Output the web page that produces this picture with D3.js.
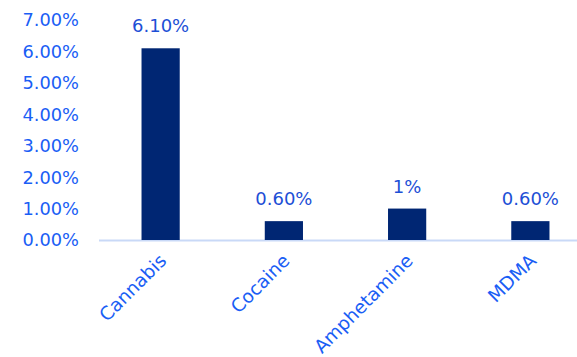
<!DOCTYPE html>
<html><head><meta charset="utf-8">
<script src="https://cdn.jsdelivr.net/npm/d3@7"></script>
<style>body{margin:0;background:#fff;} svg{display:block;}</style>
</head><body>
<svg id="c" width="577" height="357"></svg>
<script>
const categories = ["Cannabis", "Cocaine", "Amphetamine", "MDMA"];
const values = [6.10, 0.60, 1.0, 0.60];
const valueLabels = ["6.10%", "0.60%", "1%", "0.60%"];
const yTicks = [0, 1, 2, 3, 4, 5, 6, 7];

const svg = d3.select("#c");
const font = "'DejaVu Sans', sans-serif";
const x = d3.scaleBand().domain(categories).range([99, 592]).paddingInner(0.69).paddingOuter(0.345);
const y = d3.scaleLinear().domain([0, 7]).range([240, 20]);

// axis line
svg.append("line").attr("x1", 99).attr("x2", 577).attr("y1", y(0)+0.5).attr("y2", y(0)+0.5)
  .attr("stroke", "#c9d9f7").attr("stroke-width", 2);

// y tick labels
svg.append("g").selectAll("text").data(yTicks).join("text")
  .attr("x", 79).attr("y", d => y(d)).attr("dy", "0.36em")
  .attr("text-anchor", "end").attr("font-family", font).attr("font-size", 17.8)
  .attr("fill", "#1a5ef5").text(d => d.toFixed(2) + "%");

// bars
svg.append("g").selectAll("rect").data(values).join("rect")
  .attr("x", (d, i) => x(categories[i])).attr("width", x.bandwidth())
  .attr("y", d => y(d)).attr("height", d => y(0) - y(d))
  .attr("fill", "#002673");

// value labels
svg.append("g").selectAll("text").data(values).join("text")
  .attr("x", (d, i) => x(categories[i]) + x.bandwidth()/2).attr("y", d => y(d) - 16)
  .attr("text-anchor", "middle").attr("font-family", font).attr("font-size", 18)
  .attr("fill", "#1d4fd6").text((d, i) => valueLabels[i]);

// category labels
svg.append("g").selectAll("text").data(categories).join("text")
  .attr("transform", d => `translate(${x(d) + x.bandwidth()/2 + 7},${262}) rotate(-45)`)
  .attr("text-anchor", "end").attr("font-family", font).attr("font-size", 18.5)
  .attr("fill", "#1a5ef5").text(d => d);
</script>
</body></html>
